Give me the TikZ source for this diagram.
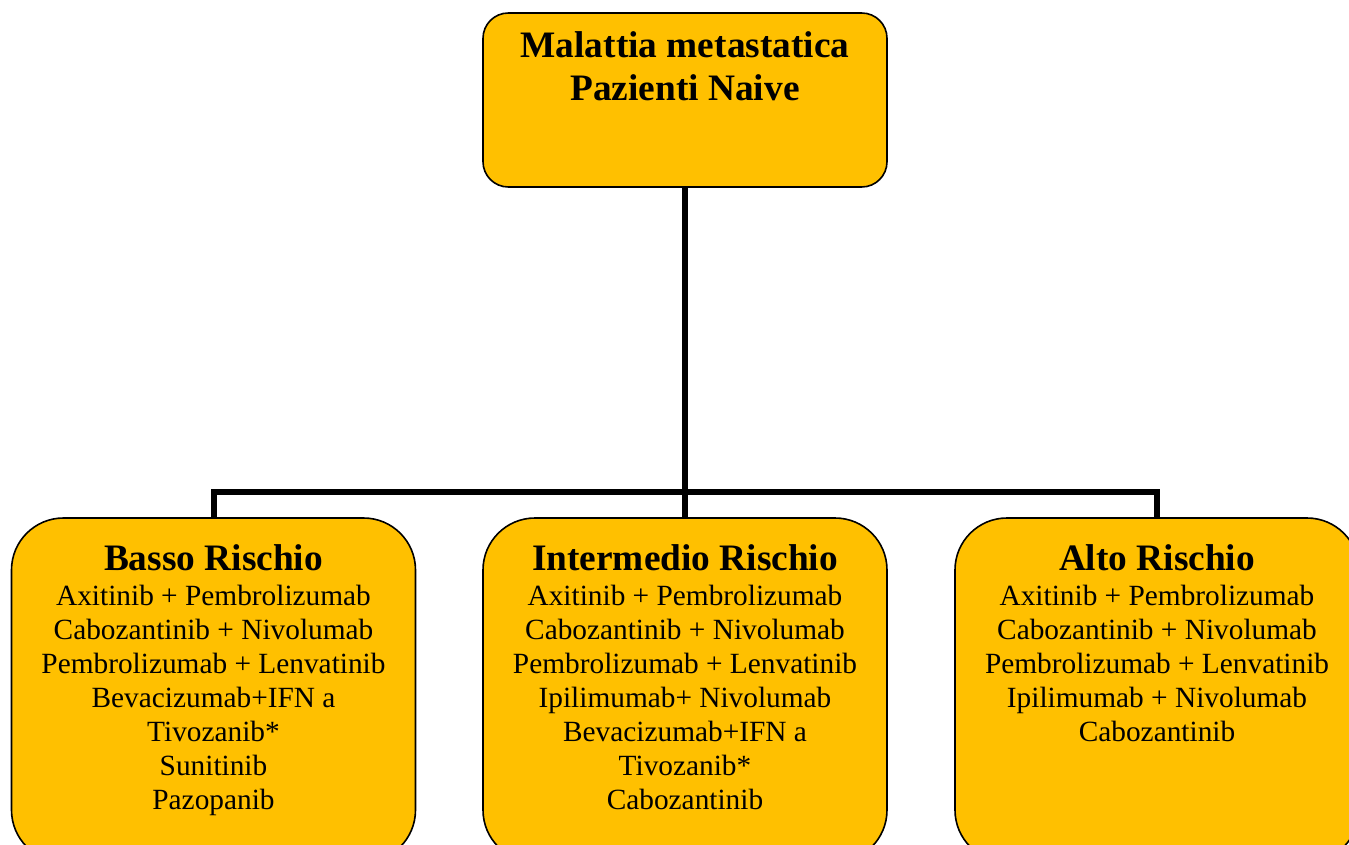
\documentclass[tikz,border=0pt]{standalone}
\usepackage{fontspec}
\setmainfont{Liberation Serif}
\usetikzlibrary{positioning}

\definecolor{riskgold}{RGB}{255,192,0}

\tikzset{
  box/.style={draw=black, line width=1.2pt, fill=riskgold, rounded corners=39pt,
    minimum width=303pt, minimum height=258pt, inner sep=0pt},
  topbox/.style={box, rounded corners=19pt, minimum height=130.5pt},
  toptitle/.style={font=\fontsize{28}{32}\selectfont\bfseries, align=center, inner sep=0pt},
  head/.style={font=\fontsize{28}{30}\selectfont\bfseries, inner sep=0pt},
  drugs/.style={font=\fontsize{22}{25.5}\selectfont, align=center, inner sep=0pt},
  link/.style={line width=4.5pt}
}

\begin{document}
\begin{tikzpicture}[x=0.75pt,y=-0.75pt]
\useasboundingbox (0,0) rectangle (1349,845);
\clip (0,0) rectangle (1349,845);

% boxes
\node[topbox] (naive) at (685,100) {};
\node[box] (basso) at (213.5,690) {};
\node[box] (interm) at (685,690) {};
\node[box] (alto) at (1157,690) {};

% connectors
\coordinate (bus) at (685,492);
\draw[link] (naive.south) -- (interm.north);
\draw[link] (basso.north) |- (bus) -| (alto.north);

% texts
\node[toptitle, below=14.25pt of naive.north] (naiveT) {Malattia metastatica\\Pazienti Naive};

\node[head, below=20.5pt of basso.north] (bassoT) {Basso Rischio};
\node[drugs, below=51pt of basso.north] (bassoL) {Axitinib + Pembrolizumab\\
  Cabozantinib + Nivolumab\\Pembrolizumab + Lenvatinib\\Bevacizumab+IFN a\\
  Tivozanib*\\Sunitinib\\Pazopanib};

\node[head, below=20.5pt of interm.north] (intermT) {Intermedio Rischio};
\node[drugs, below=51pt of interm.north] (intermL) {Axitinib + Pembrolizumab\\
  Cabozantinib + Nivolumab\\Pembrolizumab + Lenvatinib\\Ipilimumab+ Nivolumab\\
  Bevacizumab+IFN a\\Tivozanib*\\Cabozantinib};

\node[head, below=20.5pt of alto.north] (altoT) {Alto Rischio};
\node[drugs, below=51pt of alto.north] (altoL) {Axitinib + Pembrolizumab\\
  Cabozantinib + Nivolumab\\Pembrolizumab + Lenvatinib\\Ipilimumab + Nivolumab\\
  Cabozantinib};
\end{tikzpicture}
\end{document}
